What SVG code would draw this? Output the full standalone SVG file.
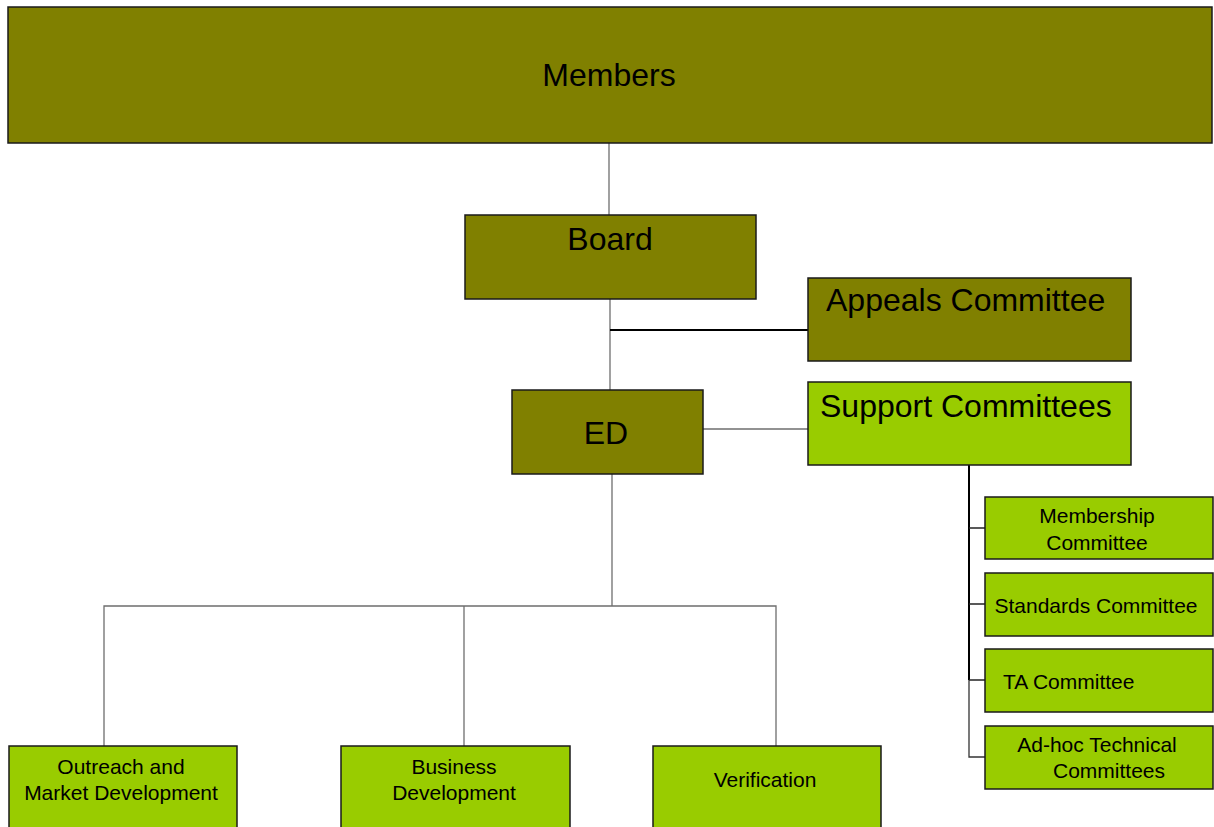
<svg xmlns="http://www.w3.org/2000/svg" width="1214" height="827" viewBox="0 0 1214 827">
<style>
text{font-family:"Liberation Sans",Arial,sans-serif;fill:#000}
.big{font-size:32px}
.sm{font-size:21px}
.olive{fill:#808000;stroke:#1a1a1a;stroke-width:1.5}
.green{fill:#99cc00;stroke:#1a1a1a;stroke-width:1.5}
.c{fill:none;stroke:#6e6e6e;stroke-width:1.3}
.cb{fill:none;stroke:#000;stroke-width:2}
.cm{fill:none;stroke:#222;stroke-width:1.5}
.cd{fill:none;stroke:#333;stroke-width:1.3}
</style>
<rect width="1214" height="827" fill="#fff"/>
<g id="connectors">
<line class="c" x1="609" y1="143" x2="609" y2="215"/>
<line class="c" x1="610" y1="299" x2="610" y2="390"/>
<line class="cb" x1="610" y1="330" x2="808" y2="330"/>
<line class="c" x1="703" y1="429" x2="808" y2="429"/>
<polyline class="c" points="612,474 612,606"/>
<polyline class="c" points="104,746 104,606 776,606 776,746"/>
<line class="c" x1="464" y1="606" x2="464" y2="746"/>
<line class="cb" x1="969" y1="465" x2="969" y2="680"/>
<polyline class="cd" points="969,680 969,757 985,757"/>
<line class="cm" x1="969" y1="528" x2="985" y2="528"/>
<line class="cm" x1="969" y1="604" x2="985" y2="604"/>
<line class="cm" x1="969" y1="680" x2="985" y2="680"/>
</g>
<g id="members"><rect class="olive" x="8" y="7" width="1204" height="136"/><text class="big" x="609" y="86" text-anchor="middle">Members</text></g>
<g id="board"><rect class="olive" x="465" y="215" width="291" height="84"/><text class="big" x="610" y="250" text-anchor="middle">Board</text></g>
<g id="appeals"><rect class="olive" x="808" y="278" width="323" height="83"/><text class="big" x="826" y="311">Appeals Committee</text></g>
<g id="ed"><rect class="olive" x="512" y="390" width="191" height="84"/><text class="big" x="606" y="444" text-anchor="middle">ED</text></g>
<g id="support"><rect class="green" x="808" y="382" width="323" height="83"/><text class="big" x="820" y="417">Support Committees</text></g>
<g id="membership"><rect class="green" x="985" y="497" width="228" height="62"/><text class="sm" x="1097" y="523" text-anchor="middle">Membership</text><text class="sm" x="1097" y="550" text-anchor="middle">Committee</text></g>
<g id="standards"><rect class="green" x="985" y="573" width="228" height="63"/><text class="sm" x="1096" y="613" text-anchor="middle">Standards Committee</text></g>
<g id="ta"><rect class="green" x="985" y="649" width="228" height="63"/><text class="sm" x="1003" y="689">TA Committee</text></g>
<g id="adhoc"><rect class="green" x="985" y="726" width="228" height="63"/><text class="sm" x="1097" y="752" text-anchor="middle">Ad-hoc Technical</text><text class="sm" x="1109" y="778" text-anchor="middle">Committees</text></g>
<g id="outreach"><rect class="green" x="9" y="746" width="228" height="90"/><text class="sm" x="121" y="774" text-anchor="middle">Outreach and</text><text class="sm" x="121" y="800" text-anchor="middle">Market Development</text></g>
<g id="business"><rect class="green" x="341" y="746" width="229" height="90"/><text class="sm" x="454" y="774" text-anchor="middle">Business</text><text class="sm" x="454" y="800" text-anchor="middle">Development</text></g>
<g id="verification"><rect class="green" x="653" y="746" width="228" height="90"/><text class="sm" x="765" y="787" text-anchor="middle">Verification</text></g>
</svg>
